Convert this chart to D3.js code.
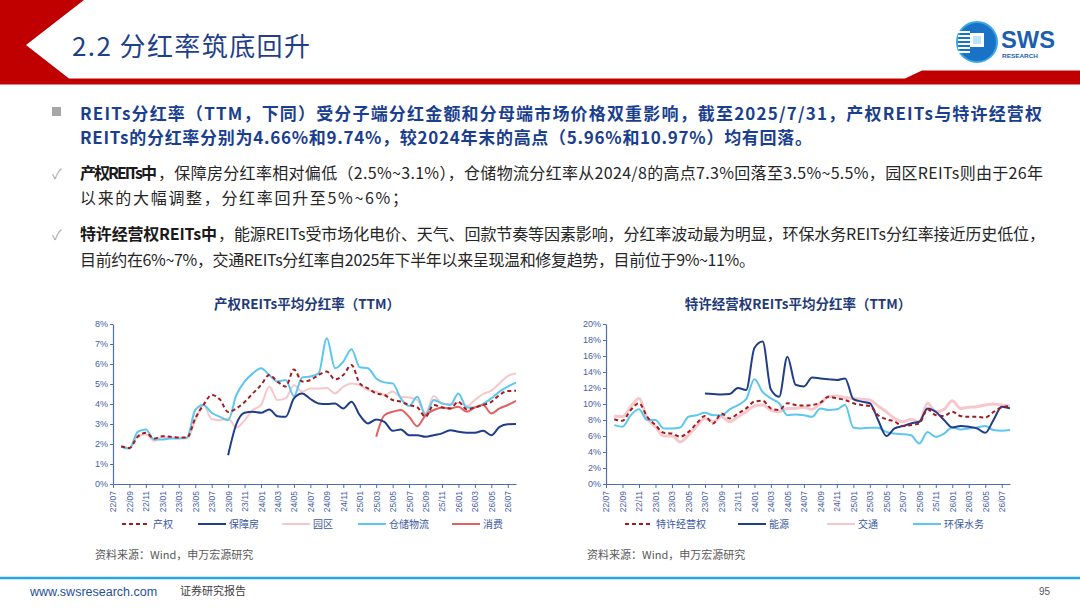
<!DOCTYPE html>
<html>
<head>
<meta charset="utf-8">
<script src="https://cdn.jsdelivr.net/npm/d3@7"></script>
<style>
  body { margin: 0; background: #fff; }
  svg { display: block; }
</style>
</head>
<body>
<div id="slide"></div>
<script>
// ---- data (monthly points, index 0 = 22/07) ----
const tickLabels = ["22/07", "22/09", "22/11", "23/01", "23/03", "23/05", "23/07", "23/09", "23/11",
    "24/01", "24/03", "24/05", "24/07", "24/09", "24/11", "25/01", "25/03", "25/05", "25/07",
    "25/09", "25/11", "26/01", "26/03", "26/05", "26/07"];

const leftYTicks = [0, 1, 2, 3, 4, 5, 6, 7, 8];
const rightYTicks = [0, 2, 4, 6, 8, 10, 12, 14, 16, 18, 20];

// 产权REITs
const chanquan = [null, 1.89, 1.80, 2.36, 2.56, 2.27, 2.39, 2.36, 2.32, 2.32, 3.28, 3.95, 4.45, 4.23, 3.60,
    3.78, 4.10, 4.53, 4.95, 5.45, 5.12, 4.87, 5.73, 5.12, 5.20, 5.45, 5.62, 5.23, 5.45, 5.95, 5.03,
    4.78, 4.53, 4.45, 4.20, 4.11, 3.95, 3.83, 3.36, 3.95, 3.83, 3.78, 4.11, 3.73, 3.83, 3.95, 4.11,
    4.45, 4.65, 4.66];
const baozhangfang = [null, null, null, null, null, null, null, null, null, null, null, null, null, null,
    1.44, 3.00, 3.56, 3.61, 3.56, 3.73, 3.39, 3.36, 4.28, 4.53, 4.25, 4.03, 4.00, 4.03, 3.78, 4.11,
    3.44, 3.03, 3.23, 3.11, 2.66, 2.73, 2.44, 2.44, 2.36, 2.44, 2.53, 2.69, 2.61, 2.56, 2.56, 2.66,
    2.44, 2.86, 2.99, 3.00];
const yuanqu = [null, 1.89, 1.80, 2.39, 2.49, 2.16, 2.36, 2.32, 2.32, 2.27, 3.19, 3.95, 3.25, 3.19, 3.28,
    2.83, 3.19, 3.70, 3.95, 4.87, 4.20, 4.28, 4.95, 4.62, 4.78, 4.78, 4.80, 4.53, 4.87, 5.03, 4.95,
    4.70, 4.62, 4.45, 4.62, 4.36, 4.33, 4.20, 3.53, 4.40, 4.03, 4.00, 4.06, 3.90, 4.20, 4.50, 4.67,
    5.03, 5.40, 5.53];
const cangchu = [null, 1.86, 1.77, 2.61, 2.73, 2.22, 2.22, 2.27, 2.27, 2.32, 3.70, 3.95, 3.56, 3.36, 3.19,
    4.45, 5.12, 5.53, 5.79, 5.45, 5.12, 5.20, 4.40, 5.33, 5.37, 5.53, 7.29, 5.79, 6.12, 6.74, 5.84,
    5.79, 5.28, 5.08, 5.03, 4.28, 3.90, 4.36, 3.44, 4.20, 4.03, 3.95, 4.53, 3.83, 3.83, 4.00, 4.28,
    4.62, 4.87, 5.07];
const xiaofei = [null, null, null, null, null, null, null, null, null, null, null, null, null, null, null,
    null, null, null, null, null, null, null, null, null, null, null, null, null, null, null, null, null,
    2.36, 3.44, 3.61, 3.70, 3.36, 2.89, 3.44, 3.70, 3.83, 3.78, 3.86, 3.61, 3.83, 3.95, 3.53, 3.78,
    3.95, 4.16];

// 特许经营权REITs
const texu = [null, 8.10, 7.90, 9.25, 10.10, 8.40, 7.36, 6.40, 6.30, 5.90, 6.50, 7.57, 8.50, 7.57, 8.80,
    8.20, 8.80, 9.45, 10.30, 10.40, 9.45, 9.25, 10.10, 9.87, 9.80, 9.87, 10.17, 10.90, 10.70, 10.50,
    10.10, 9.87, 9.75, 8.60, 8.10, 7.80, 7.24, 7.36, 7.57, 9.33, 8.60, 8.50, 9.03, 8.50, 8.40, 8.40,
    8.30, 9.00, 9.58, 9.74];
const nengyuan = [null, null, null, null, null, null, null, null, null, null, null, null,
    11.30, 11.25, 11.20, 11.25, 12.00, 11.75, 17.00, 17.80, 11.80, 10.90, 15.90, 12.40, 12.20, 13.30,
    13.20, 13.10, 13.00, 13.20, 10.60, 10.30, 10.10, 8.00, 6.00, 6.95, 7.24, 7.57, 7.78, 9.45, 9.03,
    8.00, 7.07, 7.24, 7.15, 6.95, 6.40, 8.00, 9.66, 9.45];
const jiaotong = [null, 8.50, 8.40, 9.66, 10.70, 8.20, 7.15, 6.00, 6.00, 5.27, 6.10, 7.24, 8.20, 7.78, 8.40,
    7.78, 8.40, 9.03, 9.75, 9.87, 9.25, 9.03, 9.45, 9.45, 9.58, 9.33, 10.10, 10.90, 11.00, 10.80,
    10.70, 10.60, 10.50, 9.75, 9.03, 8.20, 7.78, 8.07, 7.78, 10.10, 9.03, 9.33, 10.40, 9.45, 9.58,
    9.66, 9.87, 10.00, 9.87, 9.75];
const huanbao = [null, 7.36, 7.15, 8.60, 9.33, 8.00, 8.00, 6.95, 6.95, 7.07, 8.40, 8.60, 8.90, 8.60, 8.60,
    9.33, 9.87, 10.60, 13.10, 11.50, 10.70, 10.10, 8.60, 8.70, 8.60, 8.40, 9.45, 9.25, 9.33, 9.87,
    7.07, 6.95, 7.03, 7.03, 6.50, 6.30, 6.23, 6.10, 5.06, 6.50, 5.90, 6.30, 7.07, 6.82, 6.95, 7.07,
    7.24, 6.74, 6.65, 6.74];

// ---- page ----
const W = 1080, H = 608;
const CJK = "'Noto Sans CJK SC', 'Noto Sans', sans-serif";
const LAT = "'Liberation Sans', Arial, sans-serif";
const AXIS = "#4f6cb4";

const svg = d3.select("#slide").append("svg")
    .attr("width", W)
    .attr("height", H)
    .attr("viewBox", `0 0 ${W} ${H}`);

// header chevron + red rule
svg.append("polygon")
    .attr("points", "0,0 84,0 26,45 69,78.5 905,78.5 922,70.6 1080,70.6 1080,84.4 0,84.4")
    .attr("fill", "#c00000");

svg.append("text")
    .attr("x", 72).attr("y", 56)
    .attr("textLength", 238).attr("lengthAdjust", "spacing")
    .style("font-family", CJK).style("font-size", "26px")
    .style("fill", "#1f3f8a")
    .text("2.2 分红率筑底回升");

// SWS logo
const logo = svg.append("g").attr("transform", "translate(977,42)");
logo.append("circle").attr("r", 20).attr("fill", "#1a72c6");
logo.append("circle").attr("r", 20).attr("fill", "none").attr("stroke", "#3aa6e6").attr("stroke-width", 2);
[-11, -7, -3, 1, 5, 9].forEach(dy => {
    logo.append("rect").attr("x", -19).attr("y", dy).attr("width", 12).attr("height", 2).attr("fill", "#fff");
});
logo.append("rect").attr("x", -7).attr("y", -9).attr("width", 14).attr("height", 14).attr("fill", "#fff");
logo.append("rect").attr("x", -4).attr("y", -6).attr("width", 8).attr("height", 8).attr("fill", "#bfe3f7");

svg.append("text")
    .attr("x", 1001).attr("y", 47.5)
    .attr("textLength", 54).attr("lengthAdjust", "spacingAndGlyphs")
    .style("font-family", LAT).style("font-weight", "bold").style("font-size", "23px")
    .style("fill", "#1c5fb0")
    .text("SWS");
svg.append("text")
    .attr("x", 1002).attr("y", 58)
    .attr("textLength", 36).attr("lengthAdjust", "spacingAndGlyphs")
    .style("font-family", LAT).style("font-weight", "bold").style("font-size", "5.5px")
    .style("fill", "#1c5fb0")
    .text("RESEARCH");

// body text
function textLine(x, y, str, size, weight, fill, len) {
    const t = svg.append("text")
        .attr("x", x).attr("y", y)
        .style("font-family", CJK)
        .style("font-size", size + "px")
        .style("font-weight", weight)
        .style("fill", fill)
        .text(str);
    if (len) t.attr("textLength", len).attr("lengthAdjust", "spacing");
    return t;
}

svg.append("rect").attr("x", 52).attr("y", 107).attr("width", 9).attr("height", 9).attr("fill", "#a6a6a6");
textLine(80, 120, "REITs分红率（TTM，下同）受分子端分红金额和分母端市场价格双重影响，截至2025/7/31，产权REITs与特许经营权",
    17, "bold", "#1b3f8f", 962);
textLine(80, 144, "REITs的分红率分别为4.66%和9.74%，较2024年末的高点（5.96%和10.97%）均有回落。",
    17, "bold", "#1b3f8f", 732);

textLine(52, 179, "✓", 14, "normal", "#a6a6a6");
textLine(80, 179, "产权REITs中", 16, "bold", "#1a1a1a", 77);
textLine(158, 179, "，保障房分红率相对偏低（2.5%~3.1%），仓储物流分红率从2024/8的高点7.3%回落至3.5%~5.5%，园区REITs则由于26年",
    16, "normal", "#262626", 885);
textLine(80, 204, "以来的大幅调整，分红率回升至5%~6%；", 16, "normal", "#262626", 328);

textLine(52, 240, "✓", 14, "normal", "#a6a6a6");
textLine(80, 240, "特许经营权REITs中", 16, "bold", "#1a1a1a", 137);
textLine(218, 240, "，能源REITs受市场化电价、天气、回款节奏等因素影响，分红率波动最为明显，环保水务REITs分红率接近历史低位，",
    16, "normal", "#262626", 827);
textLine(80, 266, "目前约在6%~7%，交通REITs分红率自2025年下半年以来呈现温和修复趋势，目前位于9%~11%。",
    16, "normal", "#262626", 675);

// ---- charts ----
function drawChart(cfg) {
    const g = svg.append("g");
    const x = d3.scaleLinear().domain([0, 49]).range([cfg.left, cfg.right]);
    const y = d3.scaleLinear().domain([0, cfg.yTicks[cfg.yTicks.length - 1]]).range([484, 324]);

    g.append("text")
        .attr("x", cfg.titleX).attr("y", 309)
        .attr("text-anchor", "middle")
        .style("font-family", CJK).style("font-weight", "bold").style("font-size", "13.5px")
        .style("fill", "#1f3a78")
        .text(cfg.title);

    const yAxis = g.append("g")
        .attr("transform", `translate(${cfg.left},0)`)
        .call(d3.axisLeft(y).tickValues(cfg.yTicks).tickFormat(d => d + "%").tickSize(3).tickSizeOuter(0));

    const xAxis = g.append("g")
        .attr("transform", "translate(0,484)")
        .call(d3.axisBottom(x)
            .tickValues(tickLabels.map((_, i) => i * 2))
            .tickFormat((d, i) => tickLabels[i])
            .tickSize(4).tickSizeOuter(0));

    [yAxis, xAxis].forEach(a => {
        a.select(".domain").attr("stroke", AXIS).attr("stroke-width", 1.2);
        a.selectAll(".tick line").attr("stroke", AXIS);
        a.selectAll("text").style("font-family", LAT).style("fill", "#4a5ea8");
    });
    yAxis.selectAll("text").style("font-size", "9px").attr("x", -5);
    xAxis.selectAll("text")
        .style("font-size", "8.5px")
        .attr("transform", "rotate(-90)")
        .attr("x", -7).attr("y", 0).attr("dy", "0.35em")
        .style("text-anchor", "end");

    const line = d3.line()
        .defined(d => d != null)
        .x((d, i) => x(i))
        .y(d => y(d))
        .curve(d3.curveMonotoneX);

    // draw order: light lines first, dashed on top
    cfg.series.slice().sort((a, b) => a.z - b.z).forEach(s => {
        g.append("path")
            .datum(s.values)
            .attr("d", line)
            .attr("fill", "none")
            .attr("stroke", s.color)
            .attr("stroke-width", s.width)
            .attr("stroke-dasharray", s.dash || null)
            .attr("stroke-linejoin", "round");
    });

    // legend
    cfg.series.forEach((s, i) => {
        const lx = cfg.legendX[i];
        g.append("line")
            .attr("x1", lx).attr("x2", lx + 28)
            .attr("y1", 524).attr("y2", 524)
            .attr("stroke", s.color)
            .attr("stroke-width", 2)
            .attr("stroke-dasharray", s.dash || null);
        g.append("text")
            .attr("x", lx + 31).attr("y", 528)
            .style("font-family", CJK).style("font-size", "10px")
            .style("fill", "#3c57a3")
            .text(s.name);
    });

    g.append("text")
        .attr("x", cfg.sourceX).attr("y", 559)
        .style("font-family", CJK).style("font-size", "11px")
        .style("fill", "#595959")
        .text("资料来源：Wind，申万宏源研究");
}

drawChart({
    left: 113, right: 516, titleX: 307, sourceX: 95,
    title: "产权REITs平均分红率（TTM）",
    yTicks: leftYTicks,
    legendX: [122, 198, 282, 358, 452],
    series: [
        { name: "产权", values: chanquan, color: "#a11c20", width: 2, dash: "4,3", z: 5 },
        { name: "保障房", values: baozhangfang, color: "#1f3d8a", width: 2, z: 4 },
        { name: "园区", values: yuanqu, color: "#f6c8cb", width: 2, z: 1 },
        { name: "仓储物流", values: cangchu, color: "#5ec6ef", width: 2, z: 2 },
        { name: "消费", values: xiaofei, color: "#e06262", width: 2, z: 3 }
    ]
});

drawChart({
    left: 606, right: 1010, titleX: 798, sourceX: 587,
    title: "特许经营权REITs平均分红率（TTM）",
    yTicks: rightYTicks,
    legendX: [625, 738, 827, 913],
    series: [
        { name: "特许经营权", values: texu, color: "#a11c20", width: 2, dash: "4,3", z: 5 },
        { name: "能源", values: nengyuan, color: "#1f3d8a", width: 2, z: 4 },
        { name: "交通", values: jiaotong, color: "#f6c8cb", width: 3, z: 1 },
        { name: "环保水务", values: huanbao, color: "#5ec6ef", width: 2, z: 2 }
    ]
});

// footer
svg.append("line")
    .attr("x1", 0).attr("x2", W).attr("y1", 578).attr("y2", 578)
    .attr("stroke", "#27a6e0").attr("stroke-width", 2.5);
svg.append("text")
    .attr("x", 30).attr("y", 596)
    .style("font-family", LAT).style("font-size", "12.5px")
    .style("fill", "#1f4f9e")
    .text("www.swsresearch.com");
svg.append("text")
    .attr("x", 180).attr("y", 595)
    .style("font-family", CJK).style("font-size", "11px")
    .style("fill", "#404040")
    .text("证券研究报告");
svg.append("text")
    .attr("x", 1050).attr("y", 595)
    .attr("text-anchor", "end")
    .style("font-family", LAT).style("font-size", "10px")
    .style("fill", "#595959")
    .text("95");
</script>
</body>
</html>
